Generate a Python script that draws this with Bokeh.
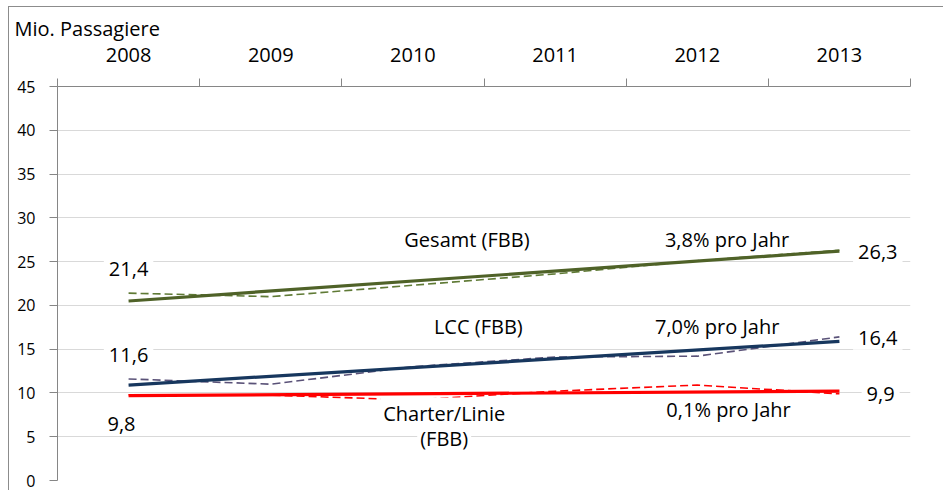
from bokeh.plotting import figure
from bokeh.models import Label, LinearAxis, FixedTicker, Range1d
from bokeh.embed import file_html
from bokeh.resources import INLINE

# ---- data ----
years = ["2008", "2009", "2010", "2011", "2012", "2013"]
gesamt = [21.4, 21.0, 22.3, 23.6, 25.1, 26.3]
lcc = [11.6, 11.0, 13.0, 14.1, 14.2, 16.4]
charter = [9.8, 9.75, 9.2, 10.2, 10.9, 9.9]
# trend lines (start 2008, end 2013)
trend_gesamt = [20.5, 26.2]
trend_lcc = [10.9, 15.9]
trend_charter = [9.7, 10.2]
y_ticks = [0, 5, 10, 15, 20, 25, 30, 35, 40, 45]

FONT = "Open Sans"
GRID = "#D9D9D9"
AXIS = "#868686"

xpos = [i + 0.5 for i in range(len(years))]
trend_x = [xpos[0], xpos[-1]]

p = figure(width=935, height=484, output_backend="svg", toolbar_location=None,
           x_range=Range1d(0, len(years)), y_range=Range1d(0, 45),
           x_axis_location=None, y_axis_location=None,
           min_border_left=48, min_border_right=34, min_border_top=79, min_border_bottom=11)
p.outline_line_color = None
p.background_fill_color = "white"
p.border_fill_color = "white"
p.styles = {"border-top": "1px solid #8c8c8c", "border-left": "1px solid #8c8c8c",
            "margin-left": "8px", "margin-top": "6px"}

p.title.text = "Mio. Passagiere"
p.title.align = "left"
p.title.offset = -43
p.title.standoff = 5
p.title.text_font = FONT
p.title.text_font_size = "20px"
p.title.text_font_style = "normal"
p.title.text_color = "#000000"

# y axis
yax = LinearAxis(ticker=FixedTicker(ticks=y_ticks, minor_ticks=[]))
yax.axis_line_color = AXIS
yax.major_tick_line_color = AXIS
yax.major_tick_out = 8
yax.major_tick_in = 0
yax.minor_tick_out = 0
yax.major_label_standoff = 14
yax.major_label_text_font = FONT
yax.major_label_text_font_size = "16px"
yax.major_label_text_color = "#000000"
p.add_layout(yax, "left")

# top category axis
xax = LinearAxis(ticker=FixedTicker(ticks=xpos, minor_ticks=list(range(len(years) + 1))))
xax.major_label_overrides = {xp: y for xp, y in zip(xpos, years)}
xax.axis_line_color = AXIS
xax.major_tick_line_color = None
xax.major_tick_out = 0
xax.major_tick_in = 0
xax.minor_tick_line_color = AXIS
xax.minor_tick_out = 8
xax.minor_tick_in = 0
xax.major_label_standoff = 17
xax.major_label_text_font = FONT
xax.major_label_text_font_size = "20px"
xax.major_label_text_color = "#000000"
p.add_layout(xax, "above")

p.xgrid.visible = False
p.ygrid.ticker = FixedTicker(ticks=y_ticks)
p.ygrid.grid_line_color = GRID

# series (dashed actuals)
p.line(xpos, gesamt, line_color="#5F7A35", line_width=1.6, line_dash="8 4")
p.line(xpos, lcc, line_color="#5A5278", line_width=1.6, line_dash="8 4")
p.line(xpos, charter, line_color="#FF0000", line_width=1.6, line_dash="8 4")
# trend lines
p.line(trend_x, trend_gesamt, line_color="#4F6228", line_width=3.2)
p.line(trend_x, trend_lcc, line_color="#17375E", line_width=3.2)
p.line(trend_x, trend_charter, line_color="#FF0000", line_width=3.2)

def lab(x, y, text, bg=True, size="20px", pad=5):
    l = Label(x=x, y=y, text=text, text_font=FONT, text_font_size=size,
              text_color="#000000", text_align="center", text_baseline="middle")
    if bg:
        l.background_fill_color = "white"
        l.background_fill_alpha = 1.0
        l.padding = pad
    p.add_layout(l)

def fmt(v):
    return f"{v:.1f}".replace(".", ",")

# value labels
lab(xpos[0], 24.1, fmt(gesamt[0]))
lab(xpos[0], 14.3, fmt(lcc[0]))
lab(xpos[0] - 0.05, 6.5, fmt(charter[0]))
lab(xpos[-1] + 0.27, 26.15, fmt(gesamt[-1]))
lab(xpos[-1] + 0.27, 16.3, fmt(lcc[-1]))
lab(xpos[-1] + 0.29, 9.9, fmt(charter[-1]))

# series names and growth rates
lab(2.88, 27.5, "Gesamt (FBB)", bg=False)
lab(4.71, 27.5, "3,8% pro Jahr", bg=False)
lab(2.96, 17.6, "LCC (FBB)", bg=False)
lab(4.64, 17.6, "7,0% pro Jahr", bg=False)
lab(2.72, 7.6, "Charter/Linie", pad=3)
lab(2.72, 4.8, "(FBB)", pad=3)
lab(4.72, 8.1, "0,1% pro Jahr", bg=False)

open("out.html", "w").write(file_html(p, INLINE))
